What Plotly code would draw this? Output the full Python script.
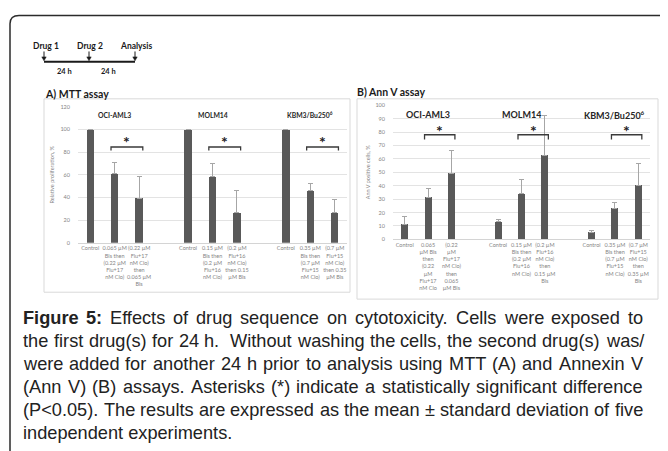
import plotly.graph_objects as go

W, H = 668, 451
OFF = 8  # the page body adds an 8 px margin; positions below are given in window pixels


def px(x):
    return (x - OFF) / W


def py(y):
    return 1 - (y - OFF) / H


# ---------------- data ----------------
positions = [0, 1, 2, 4, 5, 6, 8, 9, 10]
group_names = ["OCI-AML3", "MOLM14", "KBM3/Bu250<sup>6</sup>"]
group_centers = [1, 5, 9]
bracket_pairs = [(1, 2), (5, 6), (9, 10)]

mtt_labels = [
    "Control",
    "0.065 µM<br>Bis then<br>(0.22 µM<br>Flu+17<br>nM Clo)",
    "(0.22 µM<br>Flu+17<br>nM Clo)<br>then<br>0.065 µM<br>Bis",
    "Control",
    "0.15 µM<br>Bis then<br>(0.2 µM<br>Flu+16<br>nM Clo)",
    "(0.2 µM<br>Flu+16<br>nM Clo)<br>then 0.15<br>µM Bis",
    "Control",
    "0.35 µM<br>Bis then<br>(0.7 µM<br>Flu+15<br>nM Clo)",
    "(0.7 µM<br>Flu+15<br>nM Clo)<br>then 0.35<br>µM Bis",
]
annv_labels = [
    "Control",
    "0.065<br>µM Bis<br>then<br>(0.22<br>µM<br>Flu+17<br>nM Clo",
    "(0.22<br>µM<br>Flu+17<br>nM Clo)<br>then<br>0.065<br>µM Bis",
    "Control",
    "0.15 µM<br>Bis then<br>(0.2 µM<br>Flu+16<br>nM Clo)",
    "(0.2 µM<br>Flu+16<br>nM Clo)<br>then<br>0.15 µM<br>Bis",
    "Control",
    "0.35 µM<br>Bis then<br>(0.7 µM<br>Flu+15<br>nM Clo)",
    "(0.7 µM<br>Flu+15<br>nM Clo)<br>then<br>0.35 µM<br>Bis",
]

mtt_values = [100, 61, 39.5, 100, 58.5, 27, 100, 46, 27]
mtt_errors = [None, 10, 19, None, 11.5, 19, None, 6.5, 11]
mtt_bracket_heights = [84.5, 84.5, 84.5]

annv_values = [11, 31.3, 49, 13, 34, 62.5, 5.2, 23, 40.3]
annv_errors = [6, 6.7, 17.5, 2, 11, 29.5, 1.5, 4.5, 16]
annv_bracket_heights = [78, 78, 78]

timeline_labels = ["Drug 1", "Drug 2", "Analysis"]
timeline_interval_labels = ["24 h", "24 h"]

caption_lines = [
    "<b>Figure</b> <b>5:</b> Effects of drug sequence on cytotoxicity. Cells were exposed to",
    "the first drug(s) for 24 h.  Without washing the cells, the second drug(s) was/",
    "were added for another 24 h prior to analysis using MTT (A) and Annexin V",
    "(Ann V) (B) assays. Asterisks (*) indicate a statistically significant difference",
    "(P<0.05). The results are expressed as the mean ± standard deviation of five",
    "independent experiments.",
]

BAR = "#595959"
ERR = "#a6a6a6"
GRID = "#e3e3e3"
TICK = "#858585"
BAR_W = 0.3

fig = go.Figure()

fig.add_trace(go.Bar(
    x=positions, y=mtt_values, width=BAR_W, marker=dict(color=BAR, line=dict(width=0)),
    error_y=dict(type="data", symmetric=False, array=mtt_errors, arrayminus=[0] * len(positions),
                 color=ERR, thickness=1, width=2.5),
    xaxis="x", yaxis="y", showlegend=False, hoverinfo="skip"))

fig.add_trace(go.Bar(
    x=positions, y=annv_values, width=BAR_W, marker=dict(color=BAR, line=dict(width=0)),
    error_y=dict(type="data", symmetric=False, array=annv_errors, arrayminus=[0] * len(positions),
                 color=ERR, thickness=1, width=2.5),
    xaxis="x2", yaxis="y2", showlegend=False, hoverinfo="skip"))

shapes = []
annotations = []

# outer border with rounded top-left corner
shapes.append(dict(
    type="path", xref="paper", yref="paper",
    path=f"M {px(10)},{py(460)} L {px(10)},{py(21)} Q {px(10)},{py(12.5)} {px(19)},{py(12.5)} L {px(676)},{py(12.5)}",
    line=dict(color="#2b2b2b", width=1.5)))

# panel frames
shapes.append(dict(type="rect", xref="paper", yref="paper", x0=px(44), x1=px(350), y0=py(293), y1=py(97),
                   line=dict(color="#d9d9d9", width=1), fillcolor="white", layer="below"))
shapes.append(dict(type="rect", xref="paper", yref="paper", x0=px(357), x1=px(658), y0=py(300), y1=py(97),
                   line=dict(color="#d9d9d9", width=1), fillcolor="white", layer="below"))

# brackets, asterisks, group titles
for (xa, ya, heights, drop, star_off, gy, gsize) in [
    ("x", "y", mtt_bracket_heights, 3, 4.5, 113, 6.8),
    ("x2", "y2", annv_bracket_heights, 3.5, 3.5, 93, 9),
]:
    for (p1, p2), h, c, name in zip(bracket_pairs, heights, group_centers, group_names):
        x1 = p1 - BAR_W / 2
        x2 = p2 + BAR_W / 2
        shapes.append(dict(type="path", xref=xa, yref=ya,
                           path=f"M {x1},{h - drop} L {x1},{h} L {x2},{h} L {x2},{h - drop}",
                           line=dict(color="#3a3a3a", width=1.3)))
        annotations.append(dict(x=(p1 + p2) / 2, y=h + star_off, xref=xa, yref=ya, text="<b>*</b>",
                                showarrow=False, font=dict(size=16, color="#222222", family="Lato"),
                                xanchor="center", yanchor="middle"))
        annotations.append(dict(x=c, y=gy, xref=xa, yref=ya, text=f"<b>{name}</b>", showarrow=False,
                                font=dict(size=gsize, color="#262626", family="Lato"),
                                xanchor="center", yanchor="middle"))

# panel titles
annotations.append(dict(x=px(44), y=py(92), xref="paper", yref="paper", text="<b>A) MTT assay</b>",
                        showarrow=False, xanchor="left", yanchor="middle", borderpad=0,
                        font=dict(size=10.5, color="#1a1a1a", family="Lato")))
annotations.append(dict(x=px(356), y=py(90), xref="paper", yref="paper", text="<b>B) Ann V assay</b>",
                        showarrow=False, xanchor="left", yanchor="middle", borderpad=0,
                        font=dict(size=10.5, color="#1a1a1a", family="Lato")))

# timeline diagram
for label, cx, ax_x in zip(timeline_labels, [46, 89.5, 136], [44, 89, 135]):
    annotations.append(dict(x=px(cx), y=py(43), xref="paper", yref="paper", text=f"<b>{label}</b>",
                            showarrow=False, xanchor="center", yanchor="middle",
                            font=dict(size=8.5, color="#1a1a1a", family="Lato")))
    shapes.append(dict(type="line", xref="paper", yref="paper", x0=px(ax_x), x1=px(ax_x),
                       y0=py(49), y1=py(56), line=dict(color="#1a1a1a", width=1)))
    shapes.append(dict(type="path", xref="paper", yref="paper",
                       path=f"M {px(ax_x - 2.2)},{py(54.5)} L {px(ax_x + 2.2)},{py(54.5)} L {px(ax_x)},{py(58.5)} Z",
                       fillcolor="#1a1a1a", line=dict(color="#1a1a1a", width=0.5)))
shapes.append(dict(type="line", xref="paper", yref="paper", x0=px(44), x1=px(135), y0=py(59.5), y1=py(59.5),
                   line=dict(color="#1a1a1a", width=2)))
for label, cx in zip(timeline_interval_labels, [64, 108.5]):
    annotations.append(dict(x=px(cx), y=py(69.5), xref="paper", yref="paper", text=f"<b>{label}</b>",
                            showarrow=False, xanchor="center", yanchor="middle",
                            font=dict(size=7.5, color="#1a1a1a", family="Lato")))

# caption (justified: each word placed along the line, Arial metrics)
REG = {" ": 278, "(": 333, ")": 333, "*": 389, "+": 584, ",": 278, "-": 333, ".": 278, "/": 278,
       ":": 278, "<": 584, "±": 549,
       "A": 667, "B": 667, "C": 722, "D": 722, "E": 667, "F": 611, "G": 778, "H": 722, "I": 278,
       "J": 500, "K": 667, "L": 556, "M": 833, "N": 722, "O": 778, "P": 667, "Q": 778, "R": 722,
       "S": 667, "T": 611, "U": 722, "V": 667, "W": 944, "X": 667, "Y": 667, "Z": 611,
       "a": 556, "b": 556, "c": 500, "d": 556, "e": 556, "f": 278, "g": 556, "h": 556, "i": 222,
       "j": 222, "k": 500, "l": 222, "m": 833, "n": 556, "o": 556, "p": 556, "q": 556, "r": 333,
       "s": 500, "t": 278, "u": 556, "v": 500, "w": 722, "x": 500, "y": 500, "z": 500}
for d in "0123456789":
    REG[d] = 556
BOLD = dict(REG)
BOLD.update({"g": 611, "u": 611, "r": 389, "i": 278, ":": 333})

CAP_SIZE = 18.2
CAP_L, CAP_R = 22, 642
CAP_Y0, CAP_DY = 319, 23.4


def word_width(word):
    bold = word.startswith("<b>")
    plain = word.replace("<b>", "").replace("</b>", "")
    table = BOLD if bold else REG
    return sum(table.get(ch, 556) for ch in plain) * CAP_SIZE / 1000


for i, line in enumerate(caption_lines):
    y = py(CAP_Y0 + i * CAP_DY)
    font = dict(size=CAP_SIZE, color="#222222", family="Liberation Sans")
    if i == len(caption_lines) - 1:
        annotations.append(dict(x=px(CAP_L), y=y, xref="paper", yref="paper", text=line, showarrow=False,
                                xanchor="left", yanchor="middle", borderpad=0, font=font))
        continue
    tokens = line.split(" ")
    words = []
    extra = []
    for t in tokens:
        if t == "":
            extra[-1] += REG[" "] * CAP_SIZE / 1000
        else:
            words.append(t)
            extra.append(0.0)
    widths = [word_width(w) for w in words]
    slack = (CAP_R - CAP_L) - sum(widths) - sum(extra)
    gap = slack / (len(words) - 1)
    x = CAP_L
    for w, wd, ex in zip(words, widths, extra):
        txt = w.replace("<", "&lt;") if not w.startswith("<b>") else w
        annotations.append(dict(x=px(x), y=y, xref="paper", yref="paper", text=txt, showarrow=False,
                                xanchor="left", yanchor="middle", borderpad=0, font=font))
        x += wd + gap + ex

fig.update_layout(
    width=W, height=H, autosize=False,
    margin=dict(l=0, r=0, t=0, b=0),
    paper_bgcolor="white", plot_bgcolor="rgba(0,0,0,0)",
    bargap=0,
    xaxis=dict(domain=[px(78), px(347)], range=[-0.5, 10.5], tickvals=positions, ticktext=mtt_labels,
               tickangle=0, tickfont=dict(size=5.5, color=TICK, family="Lato"),
               showgrid=False, zeroline=False, showline=True, linecolor="#d4d4d4", linewidth=1,
               ticks="", anchor="y", fixedrange=True),
    yaxis=dict(domain=[py(243), py(105)], range=[0, 120], dtick=20, gridcolor=GRID, gridwidth=1,
               zeroline=False, showline=False, ticks="", tickfont=dict(size=5.5, color=TICK, family="Lato"),
               ticklabelstandoff=7,
               title=dict(text="Relative proliferation, %", font=dict(size=5.5, color=TICK, family="Lato"),
                          standoff=5),
               anchor="x", fixedrange=True),
    xaxis2=dict(domain=[px(393), px(650)], range=[-0.5, 10.5], tickvals=positions, ticktext=annv_labels,
                tickangle=0, tickfont=dict(size=5.5, color=TICK, family="Lato"),
                showgrid=False, zeroline=False, showline=True, linecolor="#d4d4d4", linewidth=1,
                ticks="", anchor="y2", fixedrange=True),
    yaxis2=dict(domain=[py(239.5), py(103.5)], range=[0, 100], dtick=10, gridcolor=GRID, gridwidth=1,
                zeroline=False, showline=False, ticks="", tickfont=dict(size=5.5, color=TICK, family="Lato"),
                ticklabelstandoff=7,
                title=dict(text="Ann V positive cells, %", font=dict(size=5.5, color=TICK, family="Lato"),
                           standoff=4),
                anchor="x2", fixedrange=True),
    shapes=shapes,
    annotations=annotations,
)

fig.write_html("out.html")
